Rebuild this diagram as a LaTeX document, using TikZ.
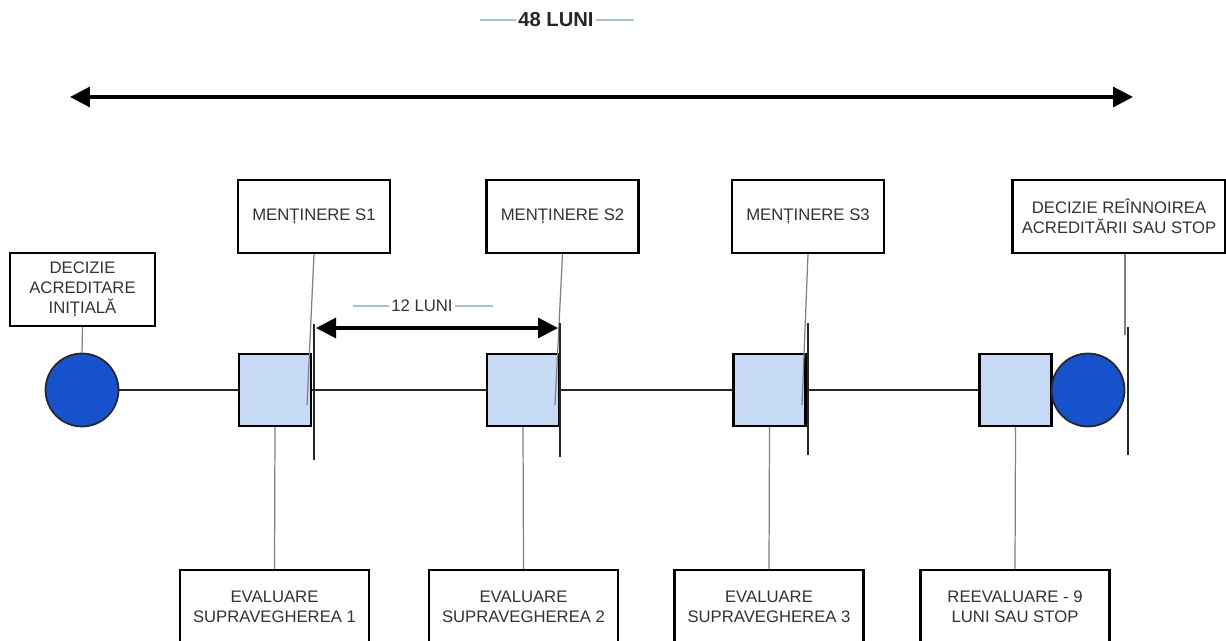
\documentclass[tikz,border=0pt]{standalone}
\usepackage{fontspec}
\setmainfont{Liberation Sans}
\usetikzlibrary{arrows.meta}
\definecolor{nodeblue}{HTML}{1652CC}
\definecolor{paleblue}{HTML}{C6D9F5}
\definecolor{tagblue}{HTML}{A4BFE8}

\begin{document}
\begin{tikzpicture}[x=0.02cm, y=-0.02cm, font=\fontsize{9.5}{11.4}\selectfont,
  box/.style={draw, line width=1.3pt, fill=white, align=center, inner sep=1mm, minimum height=1.46cm, text=black!80},
  sq/.style={draw, line width=1.2pt, fill=paleblue, minimum size=1.44cm, inner sep=0pt},
  dot/.style={circle, draw=black!85, line width=1pt, fill=nodeblue, minimum size=1.46cm, inner sep=0pt},
  ln/.style={line width=1.2pt, draw=black!85},
  stopbar/.style={line width=1.6pt, draw=black!85},
  call/.style={line width=0.7pt, draw=black!50},
  tag/.style={draw=tagblue, line width=1pt},
  a/.style={{Triangle[length=4mm, width=4mm]}-{Triangle[length=4mm, width=4mm]}, line width=1.8pt, draw=black}]
  \useasboundingbox (0,0) rectangle (1226,641);
  \clip (0,0) rectangle (1226,641);

  % overall span
  \node[font=\fontsize{11.5}{13}\selectfont\bfseries, text=black!85, inner xsep=1pt] (m48) at (556,20) {48 LUNI};
  \draw[tag] (m48.west) -- ++(-36,0);
  \draw[tag] (m48.east) -- ++(38,0);
  \coordinate (l48) at (70,97);
  \coordinate (r48) at (1133,97);
  \draw[a] (l48) -- (r48);

  % timeline
  \node[dot] (c0) at (82,390) {};
  \node[sq] (q1) at (275,390) {};
  \node[sq] (q2) at (523,390) {};
  \node[sq] (q3) at (769.5,390) {};
  \node[sq] (q4) at (1015.5,390) {};
  \node[dot] (c1) at (1088,390) {};
  \draw[ln] (c0) -- (q1);
  \draw[ln] (q1) -- (q2);
  \draw[ln] (q2) -- (q3);
  \draw[ln] (q3) -- (q4);

  \node[box, minimum width=2.9cm] (di) at (82.5,289.5) {DECIZIE\\ACREDITARE\\INIȚIALĂ};
  \node[box, minimum width=3.04cm] (s1) at (314,216.5) {MENȚINERE S1};
  \node[box, minimum width=3.04cm] (s2) at (562.5,216.5) {MENȚINERE S2};
  \node[box, minimum width=3.04cm] (s3) at (808,216.5) {MENȚINERE S3};
  \node[box, minimum width=4.26cm] (rn) at (1119,216.5) {DECIZIE REÎNNOIREA\\ACREDITĂRII SAU STOP};

  \node[box, minimum width=3.78cm] (e1) at (274.5,606.5) {EVALUARE\\SUPRAVEGHEREA 1};
  \node[box, minimum width=3.78cm] (e2) at (523.5,606.5) {EVALUARE\\SUPRAVEGHEREA 2};
  \node[box, minimum width=3.78cm] (e3) at (769,606.5) {EVALUARE\\SUPRAVEGHEREA 3};
  \node[box, minimum width=3.78cm] (rv) at (1015,606.5) {REEVALUARE - 9\\LUNI SAU STOP};

  % callouts
  \coordinate (p1) at (307,405);
  \coordinate (p2) at (555,405);
  \coordinate (p3) at (802,405);
  \coordinate (p4) at (1125,335);
  \draw[call] (di.south) -- (c0.north);
  \draw[call] (s1.south) -- (p1);
  \draw[call] (s2.south) -- (p2);
  \draw[call] (s3.south) -- (p3);
  \draw[call] (rn.south -| p4) -- (p4);
  \draw[call] (q1.south) -- (e1.north);
  \draw[call] (q2.south) -- (e2.north);
  \draw[call] (q3.south) -- (e3.north);
  \draw[call] (q4.south) -- (rv.north);

  % period bars
  \coordinate (b1t) at (314,324); \coordinate (b1b) at (314,460);
  \coordinate (b2t) at (560,323); \coordinate (b2b) at (560,457);
  \coordinate (b3t) at (808,323); \coordinate (b3b) at (808,455);
  \coordinate (b4t) at (1128,327); \coordinate (b4b) at (1128,455);
  \draw[stopbar] (b1t) -- (b1b);
  \draw[stopbar] (b2t) -- (b2b);
  \draw[stopbar] (b3t) -- (b3b);
  \draw[stopbar] (b4t) -- (b4b);

  % one year
  \node[text=black!80, inner xsep=1pt] (m12) at (422,306) {12 LUNI};
  \draw[tag] (m12.west) -- ++(-36,0);
  \draw[tag] (m12.east) -- ++(38,0);
  \coordinate (d1) at (316,328);
  \coordinate (d2) at (558,328);
  \draw[a] (d1) -- (d2);
\end{tikzpicture}
\end{document}
